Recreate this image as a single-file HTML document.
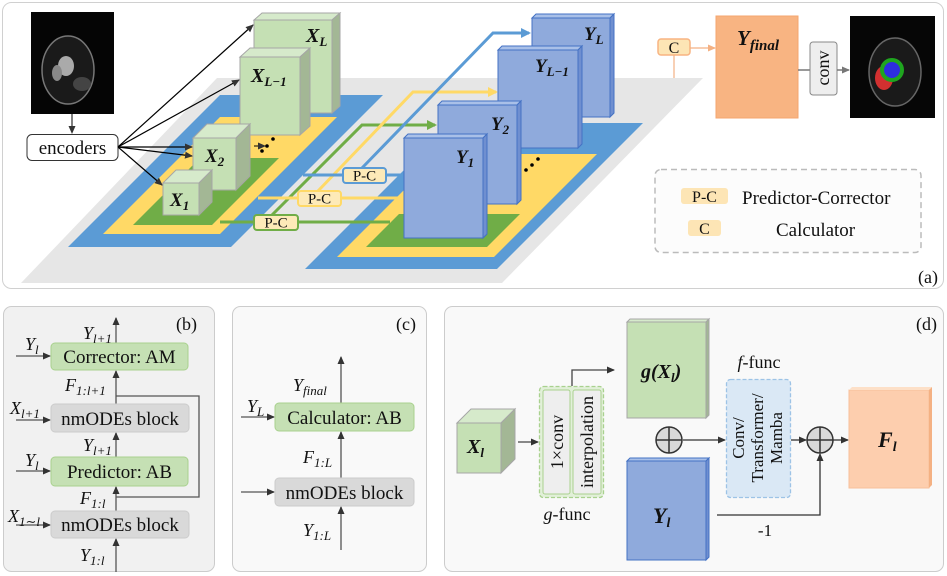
<!DOCTYPE html>
<html><head><meta charset="utf-8"><style>
html,body{margin:0;padding:0;background:#fff}
svg{display:block;font-family:"Liberation Serif","DejaVu Serif",serif}
svg text{font-family:"Liberation Serif","DejaVu Serif",serif;fill:#111}
.m{font-style:italic}
.b{font-weight:bold;font-style:italic}
</style></head><body>
<svg width="947" height="576" viewBox="0 0 947 576" xmlns="http://www.w3.org/2000/svg" font-family="Liberation Serif, serif">
<defs>
<marker id="ar" markerWidth="8" markerHeight="8" refX="7" refY="4" orient="auto" markerUnits="userSpaceOnUse"><path d="M0,0.5 L8,4 L0,7.5 Z" fill="#333"/></marker>
<marker id="ab" markerWidth="10" markerHeight="10" refX="8" refY="5" orient="auto" markerUnits="userSpaceOnUse"><path d="M0,0 L10,5 L0,10 Z" fill="#5b9bd5"/></marker>
<marker id="ay" markerWidth="10" markerHeight="10" refX="8" refY="5" orient="auto" markerUnits="userSpaceOnUse"><path d="M0,0 L10,5 L0,10 Z" fill="#ffd966"/></marker>
<marker id="ag" markerWidth="10" markerHeight="10" refX="8" refY="5" orient="auto" markerUnits="userSpaceOnUse"><path d="M0,0 L10,5 L0,10 Z" fill="#70ad47"/></marker>
<marker id="ao" markerWidth="8" markerHeight="8" refX="7" refY="4" orient="auto" markerUnits="userSpaceOnUse"><path d="M0,0.5 L8,4 L0,7.5 Z" fill="#f4b183"/></marker>
<marker id="agr" markerWidth="8" markerHeight="8" refX="7" refY="4" orient="auto" markerUnits="userSpaceOnUse"><path d="M0,0.5 L8,4 L0,7.5 Z" fill="#777"/></marker>
</defs>

<!-- panel a -->
<rect x="2.5" y="2.5" width="941" height="286" rx="9" fill="#fff" stroke="#d0d0d0"/>
<polygon points="217,78 703,78 502,283 21,283" fill="#e6e6e6"/>
<polygon points="220,95 383,95 231,247 68,247" fill="#5b9bd5"/>
<polygon points="220,117 337,117 220,234 103,234" fill="#ffd966"/>
<polygon points="200,158 279,158 212,225 133,225" fill="#70ad47"/>
<polygon points="451,123 643,123 497,269 305,269" fill="#5b9bd5"/>
<polygon points="440,154 597,154 494,257 337,257" fill="#ffd966"/>
<polygon points="399,214 520,214 487,247 366,247" fill="#70ad47"/>

<polyline points="220,222 390,222" fill="none" stroke="#70ad47" stroke-width="3"/>
<polyline points="272,215 362,125 435,125" fill="none" stroke="#70ad47" stroke-width="3" marker-end="url(#ag)"/>
<polyline points="258,198 404,198" fill="none" stroke="#ffd966" stroke-width="3"/>
<polyline points="318,191 413,92 496,92" fill="none" stroke="#ffd966" stroke-width="3" marker-end="url(#ay)"/>
<polyline points="303,175 404,175" fill="none" stroke="#5b9bd5" stroke-width="3"/>
<polyline points="362,168 493,33 529,33" fill="none" stroke="#5b9bd5" stroke-width="3" marker-end="url(#ab)"/>

<g stroke="#a6a6a6" stroke-width="1">
<polygon points="254,20 262,13 340,13 332,20" fill="#d6eacb"/><polygon points="332,20 340,13 340,106 332,113" fill="#a3b795"/><rect x="254" y="20" width="78" height="93" fill="#c5e0b4"/>
<polygon points="240,57 250,48 310,48 300,57" fill="#d6eacb"/><polygon points="300,57 310,48 310,126 300,135" fill="#a3b795"/><rect x="240" y="57" width="60" height="78" fill="#c5e0b4"/>
<polygon points="193,138 207,124 250,124 236,138" fill="#d6eacb"/><polygon points="236,138 250,124 250,176 236,190" fill="#a3b795"/><rect x="193" y="138" width="43" height="52" fill="#c5e0b4"/>
<polygon points="163,183 176,170 212,170 199,183" fill="#d6eacb"/><polygon points="199,183 212,170 212,202 199,215" fill="#a3b795"/><rect x="163" y="183" width="36" height="32" fill="#c5e0b4"/>
</g>
<text x="306" y="42" class="b" font-size="20">X<tspan font-size="13" dy="4">L</tspan></text>
<text x="251" y="82" class="b" font-size="20">X<tspan font-size="13" dy="4">L−1</tspan></text>
<text x="205" y="162" class="b" font-size="19">X<tspan font-size="13" dy="4">2</tspan></text>
<text x="170" y="206" class="b" font-size="19">X<tspan font-size="13" dy="4">1</tspan></text>

<g stroke="#4472c4" stroke-width="1" fill="#8faadc">
<polygon points="532,18 536,14 614,14 610,18" fill="#a9c0e8"/><polygon points="610,18 614,14 614,113 610,117" fill="#6f8fd0"/><rect x="532" y="18" width="78" height="99"/>
<polygon points="498,50 502,46 582,46 578,50" fill="#a9c0e8"/><polygon points="578,50 582,46 582,144 578,148" fill="#6f8fd0"/><rect x="498" y="50" width="80" height="98"/>
<polygon points="438,105 442,101 521,101 517,105" fill="#a9c0e8"/><polygon points="517,105 521,101 521,200 517,204" fill="#6f8fd0"/><rect x="438" y="105" width="79" height="99"/>
<polygon points="404,138 408,134 487,134 483,138" fill="#a9c0e8"/><polygon points="483,138 487,134 487,234 483,238" fill="#6f8fd0"/><rect x="404" y="138" width="79" height="100"/>
</g>
<text x="584" y="40" class="b" font-size="19">Y<tspan font-size="13" dy="4">L</tspan></text>
<text x="535" y="72" class="b" font-size="19">Y<tspan font-size="13" dy="4">L−1</tspan></text>
<text x="491" y="130" class="b" font-size="19">Y<tspan font-size="13" dy="4">2</tspan></text>
<text x="456" y="163" class="b" font-size="19">Y<tspan font-size="13" dy="4">1</tspan></text>

<rect x="343" y="168" width="43" height="15" rx="3" fill="#fdeab8" stroke="#5b9bd5" stroke-width="2"/>
<text x="364.5" y="180.5" font-size="15" text-anchor="middle">P-C</text>
<rect x="298" y="191" width="43" height="15" rx="3" fill="#fdeab8" stroke="#ffd966" stroke-width="2"/>
<text x="319.5" y="203.5" font-size="15" text-anchor="middle">P-C</text>
<rect x="254" y="215" width="44" height="15" rx="3" fill="#fdeab8" stroke="#70ad47" stroke-width="2"/>
<text x="276" y="227.5" font-size="15" text-anchor="middle">P-C</text>

<line x1="254" y1="146" x2="265" y2="146" stroke="#000" stroke-width="1" marker-end="url(#ar)"/>
<circle cx="262" cy="151" r="1.8" fill="#000"/><circle cx="267" cy="146" r="1.8" fill="#000"/><circle cx="273" cy="139" r="1.8" fill="#000"/>
<circle cx="526" cy="170" r="1.8" fill="#000"/><circle cx="532" cy="165" r="1.8" fill="#000"/><circle cx="538" cy="159" r="1.8" fill="#000"/>

<!-- MRI -->
<rect x="31" y="12" width="83" height="102" fill="#050505"/>
<ellipse cx="68" cy="70" rx="26" ry="34" fill="#1a1a1a" stroke="#777" stroke-width="1.5"/>
<ellipse cx="66" cy="66" rx="8" ry="10" fill="#aaa"/>
<ellipse cx="57" cy="73" rx="5" ry="8" fill="#888"/>
<ellipse cx="82" cy="84" rx="9" ry="7" fill="#444"/>
<line x1="72" y1="114" x2="72" y2="133" stroke="#000" marker-end="url(#ar)"/>
<rect x="27" y="134.5" width="91" height="26" rx="5" fill="#fff" stroke="#333"/>
<text x="72.5" y="154" font-size="19" text-anchor="middle">encoders</text>
<g stroke="#000" stroke-width="1.2" fill="none">
<line x1="118" y1="147" x2="253" y2="25" marker-end="url(#ar)"/>
<line x1="118" y1="147" x2="239" y2="80" marker-end="url(#ar)"/>
<line x1="118" y1="147" x2="192" y2="147" marker-end="url(#ar)"/>
<line x1="118" y1="147" x2="192" y2="156" marker-end="url(#ar)"/>
<line x1="118" y1="147" x2="162" y2="185" marker-end="url(#ar)"/>
</g>

<rect x="658" y="39" width="32" height="16" rx="3" fill="#fde5b5" stroke="#f8b482" stroke-width="1.5"/>
<text x="674" y="53" font-size="16" text-anchor="middle">C</text>
<line x1="674" y1="55" x2="674" y2="78" stroke="#f4b183" stroke-width="1.2"/>
<line x1="690" y1="48" x2="715" y2="48" stroke="#f4b183" stroke-width="1.2" marker-end="url(#ao)"/>
<rect x="716" y="16" width="82" height="102" fill="#f8b482" stroke="#f4a66f"/>
<text x="737" y="45" class="b" font-size="21">Y<tspan font-size="15" dy="5">final</tspan></text>
<line x1="798" y1="70" x2="810" y2="70" stroke="#777" stroke-width="1.5"/>
<rect x="810" y="42" width="27" height="53" rx="3" fill="#eee" stroke="#888"/>
<text transform="translate(829,68) rotate(-90)" font-size="18" text-anchor="middle">conv</text>
<line x1="837" y1="70" x2="849" y2="70" stroke="#777" stroke-width="1.5" marker-end="url(#agr)"/>
<rect x="850" y="16" width="85" height="102" fill="#060606"/>
<ellipse cx="895" cy="72" rx="26" ry="34" fill="#1a1a1a" stroke="#666" stroke-width="1.5"/>
<ellipse cx="884" cy="78" rx="9" ry="12" fill="#d23030"/>
<circle cx="892" cy="70" r="10" fill="#2e2ee0" stroke="#1fa51f" stroke-width="4"/>

<rect x="655" y="169.5" width="266" height="83" rx="6" fill="#fcfcfc" stroke="#bbb" stroke-dasharray="6,4" stroke-width="1.5"/>
<rect x="681" y="188" width="47" height="16" rx="3" fill="#fde5b5"/>
<text x="704.5" y="202" font-size="16" text-anchor="middle">P-C</text>
<text x="742" y="204" font-size="19">Predictor-Corrector</text>
<rect x="688" y="220" width="33" height="16" rx="3" fill="#fde5b5"/>
<text x="704.5" y="234" font-size="16" text-anchor="middle">C</text>
<text x="776" y="236" font-size="19">Calculator</text>
<text x="918" y="283" font-size="18">(a)</text>

<!-- panel b -->
<rect x="3.5" y="306.5" width="211" height="265" rx="8" fill="#f1f1f1" stroke="#ccc"/>
<text x="176" y="330" font-size="18">(b)</text>
<g stroke="#555" stroke-width="1.3" fill="none">
<line x1="116" y1="343" x2="116" y2="318" marker-end="url(#ar)"/>
<line x1="116" y1="404" x2="116" y2="371" marker-end="url(#ar)"/>
<line x1="116" y1="457" x2="116" y2="433" marker-end="url(#ar)"/>
<line x1="116" y1="511" x2="116" y2="487" marker-end="url(#ar)"/>
<line x1="116" y1="572" x2="116" y2="539" marker-end="url(#ar)"/>
<polyline points="116,396 199,396 199,497 116,497"/>
<line x1="16" y1="356" x2="50" y2="356" marker-end="url(#ar)"/>
<line x1="16" y1="420" x2="50" y2="420" marker-end="url(#ar)"/>
<line x1="16" y1="471" x2="50" y2="471" marker-end="url(#ar)"/>
<line x1="16" y1="525" x2="50" y2="525" marker-end="url(#ar)"/>
</g>
<rect x="51" y="343" width="137" height="27" rx="4" fill="#c5e0b4" stroke="#a9d18e"/>
<text x="119.5" y="363" font-size="19" text-anchor="middle">Corrector: AM</text>
<rect x="51" y="404" width="138" height="28" rx="4" fill="#d9d9d9" stroke="#ccc"/>
<text x="120" y="425" font-size="19" text-anchor="middle">nmODEs block</text>
<rect x="51" y="457" width="137" height="29" rx="4" fill="#c5e0b4" stroke="#a9d18e"/>
<text x="119.5" y="478" font-size="19" text-anchor="middle">Predictor: AB</text>
<rect x="51" y="511" width="138" height="27" rx="4" fill="#d9d9d9" stroke="#ccc"/>
<text x="120" y="531" font-size="19" text-anchor="middle">nmODEs block</text>
<text x="83" y="339" class="m" font-size="18">Y<tspan font-size="13" dy="4">l+1</tspan></text>
<text x="25" y="350" class="m" font-size="18">Y<tspan font-size="13" dy="4">l</tspan></text>
<text x="65" y="391" class="m" font-size="18">F<tspan font-size="13" dy="4">1:l+1</tspan></text>
<text x="10" y="414" class="m" font-size="18">X<tspan font-size="13" dy="4">l+1</tspan></text>
<text x="83" y="451" class="m" font-size="18">Y<tspan font-size="13" dy="4">l+1</tspan></text>
<text x="25" y="466" class="m" font-size="18">Y<tspan font-size="13" dy="4">l</tspan></text>
<text x="80" y="504" class="m" font-size="18">F<tspan font-size="13" dy="4">1:l</tspan></text>
<text x="8" y="522" class="m" font-size="18">X<tspan font-size="13" dy="4">1∼l</tspan></text>
<text x="80" y="561" class="m" font-size="18">Y<tspan font-size="13" dy="4">1:l</tspan></text>

<!-- panel c -->
<rect x="232.5" y="306.5" width="194" height="265" rx="8" fill="#f9f9f9" stroke="#ccc"/>
<text x="396" y="330" font-size="18">(c)</text>
<g stroke="#555" stroke-width="1.3" fill="none">
<line x1="341" y1="403" x2="341" y2="357" marker-end="url(#ar)"/>
<line x1="341" y1="478" x2="341" y2="432" marker-end="url(#ar)"/>
<line x1="341" y1="550" x2="341" y2="507" marker-end="url(#ar)"/>
<line x1="241" y1="417" x2="274" y2="417" marker-end="url(#ar)"/>
<line x1="241" y1="492" x2="274" y2="492" marker-end="url(#ar)"/>
</g>
<rect x="275" y="403" width="139" height="28" rx="4" fill="#c5e0b4" stroke="#a9d18e"/>
<text x="344.5" y="424" font-size="19" text-anchor="middle">Calculator: AB</text>
<rect x="275" y="478" width="139" height="28" rx="4" fill="#d9d9d9" stroke="#ccc"/>
<text x="344.5" y="499" font-size="19" text-anchor="middle">nmODEs block</text>
<text x="293" y="391" class="m" font-size="18">Y<tspan font-size="13" dy="4">final</tspan></text>
<text x="247" y="412" class="m" font-size="18">Y<tspan font-size="13" dy="4">L</tspan></text>
<text x="303" y="463" class="m" font-size="18">F<tspan font-size="13" dy="4">1:L</tspan></text>
<text x="303" y="536" class="m" font-size="18">Y<tspan font-size="13" dy="4">1:L</tspan></text>

<!-- panel d -->
<rect x="444.5" y="306.5" width="499" height="265" rx="8" fill="#f9f9f9" stroke="#ccc"/>
<text x="916" y="330" font-size="18">(d)</text>
<g stroke="#a6a6a6">
<polygon points="457,423 471,409 515,409 501,423" fill="#d6eacb"/><polygon points="501,423 515,409 515,459 501,473" fill="#a3b795"/><rect x="457" y="423" width="44" height="50" fill="#c5e0b4"/>
</g>
<text x="467" y="453" class="b" font-size="20">X<tspan font-size="13" dy="4">l</tspan></text>
<line x1="518" y1="442" x2="538" y2="442" stroke="#444" stroke-width="1.3" marker-end="url(#ar)"/>
<rect x="539.5" y="386.5" width="64" height="111" rx="4" fill="#e2f0d9" stroke="#a9d18e" stroke-dasharray="4,2" stroke-width="1.3"/>
<rect x="543" y="390" width="27" height="104" rx="2" fill="#eeeeee" stroke="#a9d18e"/>
<rect x="573" y="390" width="28" height="104" rx="2" fill="#eeeeee" stroke="#a9d18e"/>
<text transform="translate(563,442) rotate(-90)" font-size="18" text-anchor="middle">1×conv</text>
<text transform="translate(593,442) rotate(-90)" font-size="18" text-anchor="middle">interpolation</text>
<text x="567" y="520" font-size="18" text-anchor="middle"><tspan class="m">g</tspan>-func</text>
<polyline points="572,386 572,370 614,370" fill="none" stroke="#444" stroke-width="1.3" marker-end="url(#ar)"/>
<g stroke="#a6a6a6">
<polygon points="627,322 630,319 709,319 706,322" fill="#d6eacb"/><polygon points="706,322 709,319 709,415 706,418" fill="#a3b795"/><rect x="627" y="322" width="79" height="96" fill="#c5e0b4"/>
</g>
<text x="641" y="378" class="b" font-size="20">g(X<tspan font-size="13" dy="4">l</tspan><tspan dy="-4">)</tspan></text>
<g stroke="#4472c4">
<polygon points="627,461 630,458 709,458 706,461" fill="#a9c0e8"/><polygon points="706,461 709,458 709,557 706,560" fill="#6f8fd0"/><rect x="627" y="461" width="79" height="99" fill="#8faadc"/>
</g>
<text x="653" y="523" class="b" font-size="22">Y<tspan font-size="14" dy="4">l</tspan></text>
<circle cx="669" cy="440" r="13" fill="#d9d9d9" stroke="#333" stroke-width="1.5"/>
<path d="M656,440 H682 M669,427 V453" stroke="#333" stroke-width="1.5"/>
<line x1="683" y1="440" x2="725" y2="440" stroke="#333" stroke-width="1.3" marker-end="url(#ar)"/>
<rect x="726.5" y="379.5" width="64" height="118" rx="4" fill="#dae8f5" stroke="#9dc3e6" stroke-dasharray="4,2" stroke-width="1.3"/>
<text transform="translate(744,438) rotate(-90)" font-size="17" text-anchor="middle">Conv/</text>
<text transform="translate(763,438) rotate(-90)" font-size="17" text-anchor="middle">Transformer/</text>
<text transform="translate(782,438) rotate(-90)" font-size="17" text-anchor="middle">Mamba</text>
<text x="759" y="368" font-size="18" text-anchor="middle"><tspan class="m">f</tspan>-func</text>
<line x1="791" y1="440" x2="806" y2="440" stroke="#333" stroke-width="1.3" marker-end="url(#ar)"/>
<circle cx="820" cy="440" r="13" fill="#d9d9d9" stroke="#333" stroke-width="1.5"/>
<path d="M807,440 H833 M820,427 V453" stroke="#333" stroke-width="1.5"/>
<line x1="833" y1="440" x2="848" y2="440" stroke="#333" stroke-width="1.3" marker-end="url(#ar)"/>
<polyline points="717,515 820,515 820,454" fill="none" stroke="#333" stroke-width="1.3" marker-end="url(#ar)"/>
<text x="765" y="536" font-size="17" text-anchor="middle">-1</text>
<rect x="849" y="390" width="80" height="98" fill="#fdceae" stroke="#f8c09a"/>
<polygon points="849,390 852,387 932,387 929,390" fill="#fde0c8"/>
<polygon points="929,390 932,387 932,485 929,488" fill="#f4b183"/>
<text x="878" y="447" class="b" font-size="22">F<tspan font-size="14" dy="4">l</tspan></text>
</svg>
</body></html>
